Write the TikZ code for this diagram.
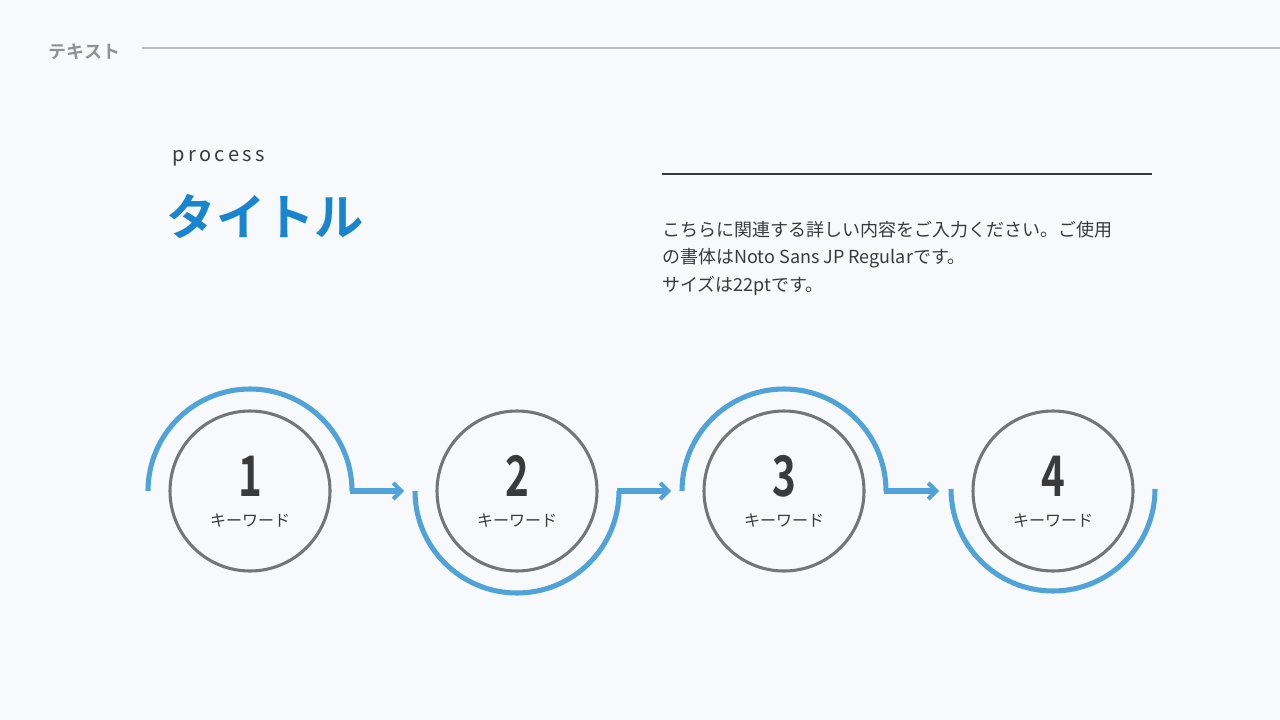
\documentclass[tikz,border=0pt]{standalone}
\usepackage{fontspec}
\setmainfont{Noto Sans CJK JP}
\newfontfamily\jpb{Noto Sans CJK JP Bold}
\usetikzlibrary{arrows.meta}
\definecolor{bg}{HTML}{F8F9FA}
\definecolor{blu}{HTML}{4FA3D9}
\definecolor{ttl}{HTML}{1A85CF}
\definecolor{gry}{HTML}{757575}
\definecolor{dk}{HTML}{3A3A3A}
\tikzset{
 ring/.style={draw=gry,line width=2.3pt,circle,minimum size=120pt,inner sep=0pt},
 arcb/.style={draw=blu,line width=3.8pt},
 arr/.style={draw=blu,line width=3.8pt,-{Straight Barb[length=6pt,width=12pt,line width=3pt]}},
 num/.style={font=\jpb\fontsize{42}{42}\selectfont,text=dk,xscale=0.72},
 kw/.style={font=\fontsize{12}{12}\selectfont,text=dk}
}
\begin{document}
\begin{tikzpicture}[x=0.75pt,y=-0.75pt]
\fill[bg] (0,0) rectangle (1280,720);
\useasboundingbox (0,0) rectangle (1280,720);
\node[anchor=west,text=gry!80,font=\jpb\fontsize{13.5}{13.5}\selectfont] (hd) at (44,52) {テキスト};
\coordinate (l1) at (142,48); \coordinate (l2) at (1280,48);
\draw[gray!50,line width=1pt] (l1) -- (l2);
\node[anchor=west,text=dk,font=\fontsize{15}{15}\selectfont] (pr) at (168,158) {p\,r\,o\,c\,e\,s\,s};
\node[anchor=west,text=ttl,font=\jpb\fontsize{37}{37}\selectfont] (tt) at (162,216) {タイトル};
\coordinate (r1) at (662,174); \coordinate (r2) at (1152,174);
\draw[dk,line width=1.6pt] (r1) -- (r2);
\node[anchor=north west,align=left,text=dk,font=\fontsize{13.5}{20.5}\selectfont,inner sep=0pt] (tx) at (662,221)
 {こちらに関連する詳しい内容をご入力ください。ご使用\\の書体はNoto Sans JP Regularです。\\サイズは22ptです。};
\foreach \i/\x in {1/250,2/517,3/784,4/1053}{
 \node[ring] (c\i) at (\x,491) {};
 \node[num] (n\i) at (\x,476) {\i};
 \node[kw] (k\i) at (\x,521) {キーワード};
}
\draw[arcb] (148,491) arc[start angle=180,end angle=0,radius=76.5pt];
\draw[arcb] (415,491) arc[start angle=180,end angle=360,radius=76.5pt];
\draw[arcb] (682,491) arc[start angle=180,end angle=0,radius=76.5pt];
\draw[arcb] (951,489) arc[start angle=180,end angle=360,radius=76.5pt];
\coordinate (a1) at (350,491); \coordinate (b1) at (404,491);
\coordinate (a2) at (617,491); \coordinate (b2) at (671,491);
\coordinate (a3) at (884,491); \coordinate (b3) at (939,491);
\draw[arr] (a1) -- (b1);
\draw[arr] (a2) -- (b2);
\draw[arr] (a3) -- (b3);
\end{tikzpicture}
\end{document}
